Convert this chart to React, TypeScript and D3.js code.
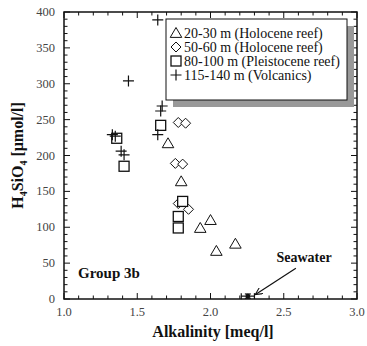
import React from "react";
import * as d3 from "d3";

const triX = [1.71, 1.80, 1.93, 2.00, 2.04, 2.17];
const triY = [217, 164, 99, 110, 67, 77];
const diaX = [1.78, 1.83, 1.76, 1.81, 1.78, 1.85];
const diaY = [246, 245, 189, 188, 133, 125];
const sqX = [1.36, 1.41, 1.66, 1.81, 1.78, 1.78];
const sqY = [224, 185, 242, 136, 115, 99];
const plX = [1.64, 1.44, 1.67, 1.66, 1.64, 1.33, 1.35, 1.39, 1.41];
const plY = [389, 304, 269, 262, 229, 229, 227, 206, 201];
const seaX = [2.255];
const seaY = [4];
const seaXErr = [0.045];
const seaYErr = [3];
const xTicks = [1.0, 1.5, 2.0, 2.5, 3.0];
const yTicks = [0, 50, 100, 150, 200, 250, 300, 350, 400];
const legendLabels = [
  "20-30 m (Holocene reef)",
  "50-60 m (Holocene reef)",
  "80-100 m (Pleistocene reef)",
  "115-140 m (Volcanics)",
];

const W = 367, H = 346;
const L = 64, R = 357, T = 12, B = 299;
const font = "Liberation Serif, DejaVu Serif, serif";

function Marker({ kind, x, y }: { kind: number; x: number; y: number }) {
  const s = 5.5;
  if (kind === 0)
    return <path d={`M${x},${y - s}L${x + s * 1.05},${y + s * 0.8}L${x - s * 1.05},${y + s * 0.8}Z`} fill="white" stroke="#111" strokeWidth={1} />;
  if (kind === 1)
    return <path d={`M${x},${y - 5}L${x + 5},${y}L${x},${y + 5}L${x - 5},${y}Z`} fill="white" stroke="#111" strokeWidth={1} />;
  if (kind === 2)
    return <rect x={x - 5} y={y - 5} width={10} height={10} fill="white" stroke="#111" strokeWidth={1.3} />;
  return <path d={`M${x - 5.5},${y}H${x + 5.5}M${x},${y - 5.5}V${y + 5.5}`} stroke="#111" strokeWidth={1.2} fill="none" />;
}

export default function App() {
  const x = d3.scaleLinear().domain([1, 3]).range([L, R]);
  const y = d3.scaleLinear().domain([0, 400]).range([B, T]);
  const xMinor = d3.range(1.0, 3.0001, 0.1);
  const yMinor = d3.range(0, 400.001, 10);
  const series = [
    { k: 0, xs: triX, ys: triY },
    { k: 1, xs: diaX, ys: diaY },
    { k: 2, xs: sqX, ys: sqY },
    { k: 3, xs: plX, ys: plY },
  ];
  const isMajX = (v: number) => Math.abs(v * 2 - Math.round(v * 2)) < 1e-6;
  const isMajY = (v: number) => Math.abs(v / 50 - Math.round(v / 50)) < 1e-6;
  const lgX = 166, lgY = 19, lgW = 181, lgH = 81;
  const ts = { fontFamily: font };
  return (
    <svg width={W} height={H} style={{ position: "absolute", left: 0, top: 0, background: "white", fontFamily: font }}>
      {xMinor.map((v, i) => {
        const len = isMajX(v) ? 6 : 3.5;
        return (
          <g key={"xt" + i} stroke="#111" strokeWidth={1}>
            <line x1={x(v)} x2={x(v)} y1={B} y2={B - len} />
            <line x1={x(v)} x2={x(v)} y1={T} y2={T + len} />
          </g>
        );
      })}
      {yMinor.map((v, i) => {
        const len = isMajY(v) ? 6 : 3.5;
        return (
          <g key={"yt" + i} stroke="#111" strokeWidth={1}>
            <line x1={L} x2={L + len} y1={y(v)} y2={y(v)} />
            <line x1={R} x2={R - len} y1={y(v)} y2={y(v)} />
          </g>
        );
      })}
      <rect x={L} y={T} width={R - L} height={B - T} fill="none" stroke="#111" strokeWidth={1.5} />
      {xTicks.map((v) => (
        <text key={"xl" + v} style={ts} x={x(v)} y={B + 17} textAnchor="middle" fontSize={12.5} fill="#444">{v.toFixed(1)}</text>
      ))}
      {yTicks.map((v) => (
        <text key={"yl" + v} style={ts} x={L - 9} y={y(v) + 4} textAnchor="end" fontSize={12.5} fill="#444">{v}</text>
      ))}
      <rect x={lgX + 7} y={lgY + 7} width={lgW} height={lgH} fill="#999" />
      <rect x={lgX} y={lgY} width={lgW} height={lgH} fill="white" stroke="#111" strokeWidth={1} />
      {legendLabels.map((lab, i) => (
        <g key={"lg" + i}>
          <Marker kind={i} x={lgX + 10} y={lgY + 14 + i * 14} />
          <text style={ts} x={lgX + 18} y={lgY + 19 + i * 14} fontSize={14} fill="#111">{lab}</text>
        </g>
      ))}
      {series.map((s) =>
        s.xs.map((xv, i) => <Marker key={s.k + "-" + i} kind={s.k} x={x(xv)} y={y(s.ys[i])} />)
      )}
      {seaX.map((xv, i) => {
        const cx = x(xv), cy = y(seaY[i]);
        const x0 = x(xv - seaXErr[i]), x1 = x(xv + seaXErr[i]);
        const y0 = y(seaY[i] - seaYErr[i]), y1 = y(seaY[i] + seaYErr[i]);
        return (
          <g key={"sw" + i} stroke="#111" strokeWidth={1.2}>
            <line x1={x0} x2={x1} y1={cy} y2={cy} />
            <line x1={x0} x2={x0} y1={cy - 3} y2={cy + 3} />
            <line x1={x1} x2={x1} y1={cy - 3} y2={cy + 3} />
            <line x1={cx} x2={cx} y1={y0} y2={y1} />
            <line x1={cx - 3} x2={cx + 3} y1={y0} y2={y0} />
            <line x1={cx - 3} x2={cx + 3} y1={y1} y2={y1} />
            <circle cx={cx} cy={cy} r={1.8} fill="#111" />
          </g>
        );
      })}
      <defs>
        <marker id="arr" viewBox="0 0 10 10" refX="9" refY="5" markerWidth="9" markerHeight="7" orient="auto" markerUnits="userSpaceOnUse">
          <path d="M0,0L10,5L0,10" fill="none" stroke="#111" strokeWidth={1.5} />
        </marker>
      </defs>
      <line x1={x(2.255) + 48} y1={y(4) - 28} x2={x(2.255) + 8} y2={y(4) - 2} stroke="#111" strokeWidth={1.2} markerEnd="url(#arr)" />
      <text style={ts} x={304} y={262} textAnchor="middle" fontSize={14} fontWeight="bold" fill="#111">Seawater</text>
      <text style={ts} x={78} y={278} fontSize={15} fontWeight="bold" fill="#111">Group 3b</text>
      <text style={ts} x={213} y={337} textAnchor="middle" fontSize={16} fontWeight="bold" fill="#111">Alkalinity [meq/l]</text>
      <text style={ts} transform={`translate(23,${(T + B) / 2}) rotate(-90)`} textAnchor="middle" fontSize={16} fontWeight="bold" fill="#111">
        H<tspan fontSize={10} dy={4}>4</tspan><tspan dy={-4}>SiO</tspan><tspan fontSize={10} dy={4}>4</tspan><tspan dy={-4}> [μmol/l]</tspan>
      </text>
    </svg>
  );
}
